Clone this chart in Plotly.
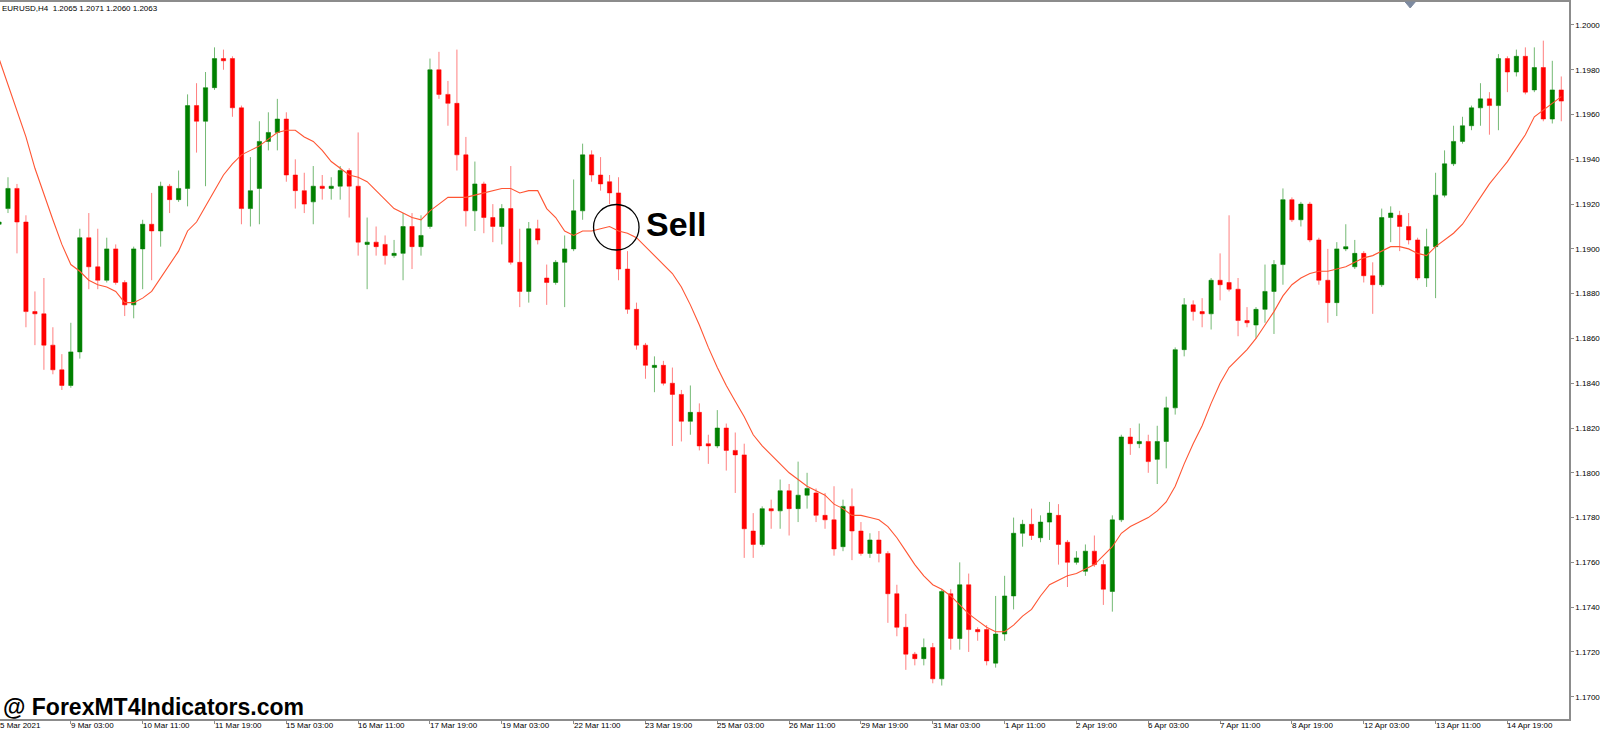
import plotly.graph_objects as go

## chart texts
headerText = "EURUSD,H4  1.2065 1.2071 1.2060 1.2063"
watermarkText = "@ ForexMT4Indicators.com"
signalText = "Sell"

## H4 bars, oldest first
barOpen = [
    1.1911, 1.1918, 1.1927, 1.1912, 1.1872, 1.1871, 1.1857, 1.1846, 1.1839, 1.1854,
    1.1905, 1.1892, 1.1886, 1.1900, 1.1885, 1.1875, 1.1900, 1.1911, 1.1908, 1.1928,
    1.1922, 1.1927, 1.1964, 1.1957, 1.1972, 1.1985, 1.1985, 1.1963, 1.1918, 1.1927,
    1.1948, 1.1952, 1.1958, 1.1933, 1.1926, 1.1921, 1.1928, 1.1927, 1.1928, 1.1935,
    1.1928, 1.1902, 1.1903, 1.1902, 1.1897, 1.1898, 1.1910, 1.1901, 1.1910, 1.1980,
    1.1969, 1.1965, 1.1942, 1.1917, 1.1929, 1.1914, 1.1910, 1.1918, 1.1894, 1.1881,
    1.1909, 1.1887, 1.1885, 1.1894, 1.1900, 1.1917, 1.1942, 1.1933, 1.1930, 1.1925,
    1.1891, 1.1873, 1.1857, 1.1847, 1.1848, 1.1840, 1.1835, 1.1823, 1.1827, 1.1813,
    1.1812, 1.1820, 1.1810, 1.1808, 1.1774, 1.1768, 1.1784, 1.1783, 1.1792, 1.1784,
    1.1790, 1.1791, 1.1781, 1.1779, 1.1767, 1.1785, 1.1774, 1.1764, 1.1770, 1.1764,
    1.1746, 1.1731, 1.1719, 1.1717, 1.1722, 1.1708, 1.1746, 1.1726, 1.1750, 1.1730,
    1.1730, 1.1715, 1.1728, 1.1745, 1.1773, 1.1777, 1.1771, 1.1778, 1.1781, 1.1769,
    1.1760, 1.1756, 1.1765, 1.1759, 1.1747, 1.1779, 1.1816, 1.1813, 1.1814, 1.1806,
    1.1814, 1.1829, 1.1855, 1.1875, 1.1872, 1.1871, 1.1886, 1.1885, 1.1882, 1.1868,
    1.1866, 1.1873, 1.1881, 1.1893, 1.1922, 1.1913, 1.1920, 1.1904, 1.1886, 1.1876,
    1.1900, 1.1892, 1.1898, 1.1888, 1.1884, 1.1914, 1.1915, 1.1910, 1.1904, 1.1887,
    1.1901, 1.1924, 1.1938, 1.1948, 1.1955, 1.1963, 1.1967, 1.1964, 1.1985, 1.1979,
    1.1986, 1.1971, 1.1981, 1.1958, 1.1971,
]
barHigh = [
    1.1913, 1.1932, 1.1929, 1.1915, 1.1881, 1.1887, 1.1865, 1.1853, 1.1867, 1.1909,
    1.1916, 1.1909, 1.1905, 1.1902, 1.1886, 1.1901, 1.1913, 1.1925, 1.1930, 1.1929,
    1.1935, 1.1969, 1.1974, 1.1979, 1.1990, 1.1989, 1.1986, 1.1964, 1.1941, 1.1957,
    1.1961, 1.1967, 1.1961, 1.1940, 1.1934, 1.1937, 1.1933, 1.1932, 1.1937, 1.1936,
    1.1952, 1.1914, 1.1910, 1.1906, 1.1904, 1.1916, 1.1916, 1.1915, 1.1985, 1.1988,
    1.1975, 1.1989, 1.1950, 1.1939, 1.1930, 1.1920, 1.1920, 1.1937, 1.1909, 1.1912,
    1.1913, 1.1893, 1.1895, 1.1906, 1.1931, 1.1947, 1.1944, 1.1941, 1.1933, 1.1932,
    1.1899, 1.1876, 1.1858, 1.1852, 1.1850, 1.1847, 1.1837, 1.1839, 1.1831, 1.1817,
    1.1828, 1.1822, 1.1818, 1.1813, 1.1782, 1.1785, 1.1788, 1.1797, 1.1795, 1.1805,
    1.1800, 1.1793, 1.1791, 1.1794, 1.1788, 1.1793, 1.1778, 1.1773, 1.1774, 1.1765,
    1.1750, 1.1737, 1.1720, 1.1726, 1.1724, 1.1748, 1.1748, 1.1760, 1.1755, 1.1731,
    1.1732, 1.1745, 1.1754, 1.1780, 1.1779, 1.1784, 1.1781, 1.1787, 1.1786, 1.1770,
    1.1765, 1.1768, 1.1772, 1.1761, 1.1781, 1.1817, 1.1820, 1.1822, 1.1817, 1.1821,
    1.1834, 1.1856, 1.1878, 1.1877, 1.1878, 1.1887, 1.1898, 1.1915, 1.1887, 1.1874,
    1.1874, 1.1893, 1.1895, 1.1927, 1.1923, 1.1921, 1.1921, 1.1905, 1.1900, 1.1903,
    1.1911, 1.1904, 1.1899, 1.1894, 1.1918, 1.1919, 1.1917, 1.1916, 1.1905, 1.1909,
    1.1934, 1.1944, 1.1955, 1.1959, 1.1964, 1.1974, 1.1970, 1.1987, 1.1986, 1.1989,
    1.1990, 1.1990, 1.1993, 1.1984, 1.1977,
]
barLow = [
    1.1910, 1.1916, 1.1898, 1.1865, 1.1857, 1.1846, 1.1844, 1.1837, 1.1838, 1.1851,
    1.1882, 1.1882, 1.1885, 1.1884, 1.1870, 1.1869, 1.1882, 1.1886, 1.1901, 1.1916,
    1.1921, 1.1919, 1.1943, 1.1928, 1.1971, 1.1980, 1.1959, 1.1911, 1.1910, 1.1911,
    1.1944, 1.1944, 1.1930, 1.1918, 1.1916, 1.1911, 1.1922, 1.1922, 1.1922, 1.1914,
    1.1897, 1.1882, 1.1897, 1.1893, 1.1896, 1.1886, 1.1891, 1.1897, 1.1909, 1.1967,
    1.1955, 1.1935, 1.1910, 1.1908, 1.1907, 1.1903, 1.1902, 1.1893, 1.1874, 1.1876,
    1.1902, 1.1875, 1.1884, 1.1874, 1.1899, 1.1913, 1.1930, 1.1926, 1.1920, 1.1886,
    1.1871, 1.1855, 1.1842, 1.1836, 1.1839, 1.1812, 1.1814, 1.1817, 1.1810, 1.1804,
    1.1811, 1.1801, 1.1791, 1.1762, 1.1762, 1.1767, 1.1775, 1.1775, 1.1772, 1.1778,
    1.1784, 1.1778, 1.1775, 1.1763, 1.1765, 1.1761, 1.1763, 1.1762, 1.1760, 1.1733,
    1.1727, 1.1712, 1.1714, 1.1714, 1.1706, 1.1705, 1.1721, 1.1721, 1.1720, 1.1725,
    1.1714, 1.1713, 1.1725, 1.1739, 1.1767, 1.1770, 1.1769, 1.1770, 1.1759, 1.1749,
    1.1759, 1.1754, 1.1758, 1.1741, 1.1738, 1.1778, 1.1808, 1.1811, 1.1800, 1.1795,
    1.1802, 1.1826, 1.1852, 1.1868, 1.1865, 1.1864, 1.1877, 1.1881, 1.1861, 1.1865,
    1.1860, 1.1867, 1.1862, 1.1884, 1.1912, 1.1910, 1.1903, 1.1884, 1.1867, 1.1870,
    1.1899, 1.1891, 1.1885, 1.1871, 1.1883, 1.1903, 1.1899, 1.1902, 1.1886, 1.1883,
    1.1878, 1.1923, 1.1937, 1.1947, 1.1953, 1.1955, 1.1951, 1.1953, 1.1970, 1.1977,
    1.1969, 1.1970, 1.1957, 1.1956, 1.1957,
]
barClose = [
    1.1912, 1.1927, 1.1912, 1.1872, 1.1871, 1.1857, 1.1846, 1.1839, 1.1854, 1.1905,
    1.1892, 1.1886, 1.1900, 1.1885, 1.1875, 1.1900, 1.1911, 1.1908, 1.1928, 1.1922,
    1.1927, 1.1964, 1.1957, 1.1972, 1.1985, 1.1984, 1.1963, 1.1918, 1.1926, 1.1948,
    1.1952, 1.1958, 1.1933, 1.1926, 1.1920, 1.1928, 1.1927, 1.1928, 1.1935, 1.1928,
    1.1903, 1.1903, 1.1901, 1.1897, 1.1898, 1.1910, 1.1901, 1.1906, 1.1980, 1.1969,
    1.1965, 1.1942, 1.1917, 1.1929, 1.1914, 1.1910, 1.1918, 1.1894, 1.1881, 1.1909,
    1.1904, 1.1885, 1.1894, 1.1900, 1.1917, 1.1942, 1.1933, 1.1929, 1.1925, 1.1891,
    1.1873, 1.1857, 1.1848, 1.1848, 1.1840, 1.1835, 1.1823, 1.1827, 1.1812, 1.1812,
    1.1820, 1.1810, 1.1808, 1.1775, 1.1768, 1.1784, 1.1783, 1.1792, 1.1784, 1.1790,
    1.1793, 1.1781, 1.1779, 1.1766, 1.1785, 1.1774, 1.1764, 1.1770, 1.1764, 1.1746,
    1.1731, 1.1719, 1.1717, 1.1722, 1.1708, 1.1747, 1.1726, 1.1750, 1.1730, 1.1729,
    1.1716, 1.1728, 1.1745, 1.1773, 1.1777, 1.1772, 1.1778, 1.1782, 1.1768, 1.1760,
    1.1762, 1.1765, 1.1759, 1.1748, 1.1779, 1.1816, 1.1813, 1.1814, 1.1805, 1.1814,
    1.1829, 1.1855, 1.1875, 1.1872, 1.1871, 1.1886, 1.1884, 1.1882, 1.1868, 1.1867,
    1.1873, 1.1881, 1.1893, 1.1922, 1.1913, 1.1920, 1.1904, 1.1886, 1.1876, 1.1900,
    1.1901, 1.1898, 1.1888, 1.1884, 1.1914, 1.1916, 1.1910, 1.1904, 1.1887, 1.1901,
    1.1924, 1.1938, 1.1948, 1.1955, 1.1963, 1.1967, 1.1964, 1.1985, 1.1979, 1.1986,
    1.1970, 1.1981, 1.1958, 1.1971, 1.1966,
]

## moving average line as drawn on the chart (one value per bar)
maLine = [
    1.1985, 1.1973, 1.1962, 1.1950, 1.1936, 1.1924, 1.1913, 1.1902, 1.1893, 1.1890,
    1.1886, 1.1884, 1.1883, 1.1881, 1.1876, 1.1876, 1.1878, 1.1881, 1.1887, 1.1893,
    1.1899, 1.1908, 1.1912, 1.1919, 1.1926, 1.1933, 1.1938, 1.1942, 1.1944, 1.1946,
    1.1949, 1.1952, 1.1953, 1.1953, 1.1950, 1.1948, 1.1944, 1.1939, 1.1936, 1.1933,
    1.1932, 1.1930, 1.1926, 1.1922, 1.1918, 1.1916, 1.1914, 1.1913, 1.1917, 1.1920,
    1.1923, 1.1923, 1.1923, 1.1924, 1.1925, 1.1926, 1.1927, 1.1927, 1.1925, 1.1926,
    1.1926, 1.1918, 1.1914, 1.1908, 1.1906, 1.1908, 1.1908, 1.1909, 1.1910, 1.1908,
    1.1907, 1.1905, 1.1901, 1.1897, 1.1893, 1.1889, 1.1883, 1.1875, 1.1866, 1.1856,
    1.1847, 1.1839, 1.1832, 1.1825, 1.1817, 1.1812, 1.1808, 1.1804, 1.1800, 1.1797,
    1.1794, 1.1792, 1.1790, 1.1786, 1.1784, 1.1781, 1.1781, 1.1780, 1.1779, 1.1776,
    1.1771, 1.1765, 1.1759, 1.1754, 1.1750, 1.1748, 1.1745, 1.1741, 1.1737, 1.1734,
    1.1731, 1.1729, 1.1729, 1.1732, 1.1736, 1.1739, 1.1745, 1.1750, 1.1752, 1.1754,
    1.1755, 1.1757, 1.1759, 1.1763, 1.1767, 1.1773, 1.1776, 1.1778, 1.1780, 1.1783,
    1.1787, 1.1794, 1.1804, 1.1813, 1.1821, 1.1831, 1.1840, 1.1847, 1.1851, 1.1855,
    1.1860, 1.1866, 1.1872, 1.1879, 1.1884, 1.1887, 1.1889, 1.1890, 1.1890, 1.1891,
    1.1892, 1.1894, 1.1896, 1.1897, 1.1899, 1.1901, 1.1901, 1.1900, 1.1898, 1.1897,
    1.1901, 1.1904, 1.1907, 1.1911, 1.1917, 1.1923, 1.1929, 1.1934, 1.1939, 1.1945,
    1.1951, 1.1959, 1.1962, 1.1965, 1.1968,
]

## time axis labels, one every 8 bars starting at the first bar
timeLabels = [
    "5 Mar 2021", "9 Mar 03:00", "10 Mar 11:00", "11 Mar 19:00", "15 Mar 03:00",
    "16 Mar 11:00", "17 Mar 19:00", "19 Mar 03:00", "22 Mar 11:00", "23 Mar 19:00",
    "25 Mar 03:00", "26 Mar 11:00", "29 Mar 19:00", "31 Mar 03:00", "1 Apr 11:00",
    "2 Apr 19:00", "6 Apr 03:00", "7 Apr 11:00", "8 Apr 19:00", "12 Apr 03:00",
    "13 Apr 11:00", "14 Apr 19:00",
]
labelStep = 8

## price axis ticks
priceTicks = [1.1700, 1.1720, 1.1740, 1.1760, 1.1780, 1.1800, 1.1820, 1.1840,
              1.1860, 1.1880, 1.1900, 1.1920, 1.1940, 1.1960, 1.1980, 1.2000]

## where the sell signal is marked
sellBar = 69
sellPrice = 1.1910

##visual settings
fontFamily = "Liberation Sans"
upColor = "#008000"
downColor = "#ff0000"
maColor = "#ff5533"
frameColor = "#8c8c8c"

##the first bar sits half off the left edge, like the terminal scrolls it
xRange = [0.11, 174.86]

bars = list(range(len(barOpen)))
labelBars = bars[::labelStep][:len(timeLabels)]

fig = go.Figure()

fig.add_trace(go.Candlestick(
    x=bars, open=barOpen, high=barHigh, low=barLow, close=barClose,
    increasing=dict(line=dict(color="rgba(0,128,0,0.55)", width=1), fillcolor=upColor),
    decreasing=dict(line=dict(color="rgba(255,0,0,0.5)", width=1), fillcolor=downColor),
    hoverinfo="skip", showlegend=False,
))

fig.add_trace(go.Scatter(
    x=bars, y=maLine, mode="lines",
    line=dict(color=maColor, width=1.1),
    hoverinfo="skip", showlegend=False,
))

fig.update_layout(
    width=1600, height=730,
    margin=dict(l=0, r=29, t=1, b=11),
    paper_bgcolor="white", plot_bgcolor="white",
    showlegend=False, boxgap=0.32,
    font=dict(family=fontFamily, size=8, color="black"),
)

fig.update_xaxes(
    range=xRange, rangeslider_visible=False,
    showgrid=False, zeroline=False,
    showline=True, mirror=True, linecolor=frameColor, linewidth=1.5,
    tickmode="array", tickvals=labelBars, ticks="outside", ticklen=3,
    tickcolor=frameColor, showticklabels=False,
)

fig.update_yaxes(
    side="right", range=[1.169005, 1.201026],
    tickmode="array", tickvals=priceTicks, tickformat=".4f",
    ticks="outside", ticklen=3, tickcolor=frameColor,
    tickfont=dict(family=fontFamily, size=8, color="black"),
    showgrid=False, zeroline=False,
    showline=True, linecolor=frameColor, linewidth=1.5,
)

##time labels start at their bar, like the terminal draws them
##(clamped to the visible range so the first one is not hidden)
for bar, label in zip(labelBars, timeLabels):
    fig.add_annotation(x=max(bar, xRange[0]), y=0, xref="x", yref="paper", text=label,
                       showarrow=False, xanchor="left", yanchor="top",
                       xshift=-2, font=dict(family=fontFamily, size=8, color="black"))

##symbol header in the top left corner
fig.add_annotation(x=0, y=1, xref="paper", yref="paper", text=headerText,
                   showarrow=False, xanchor="left", yanchor="top", xshift=0, yshift=0,
                   font=dict(family=fontFamily, size=8, color="black"))

##site watermark at the bottom left
fig.add_annotation(x=0, y=0, xref="paper", yref="paper", text="<b>" + watermarkText + "</b>",
                   showarrow=False, xanchor="left", yanchor="middle", xshift=1, yshift=12,
                   font=dict(family=fontFamily, size=23, color="black"))

##sell signal: circle round the bar and the word next to it
fig.add_shape(type="circle", xref="x", yref="y", xsizemode="pixel", ysizemode="pixel",
              xanchor=sellBar, yanchor=sellPrice, x0=-25, x1=20.5, y0=-23.5, y1=22,
              line=dict(color="black", width=1.3))
fig.add_annotation(x=sellBar, y=sellPrice, xref="x", yref="y", text="<b>" + signalText + "</b>",
                   showarrow=False, xanchor="left", yanchor="middle", xshift=25, yshift=3,
                   font=dict(family=fontFamily, size=34, color="black"))

##chart shift marker at the top
fig.add_shape(type="path", xref="paper", yref="paper", xsizemode="pixel", ysizemode="pixel",
              xanchor=0.8988, yanchor=1, path="M -5,0 L 5,0 L 0,-6 Z",
              fillcolor="#7d8aa0", line=dict(color="#7d8aa0", width=1))

##the page margin would push the figure out of the 1600x730 window
pageFix = "document.body.style.margin='0px';document.body.style.padding='0px';document.body.style.overflow='hidden';"

fig.write_html("out.html", config={"displayModeBar": False}, post_script=pageFix)
